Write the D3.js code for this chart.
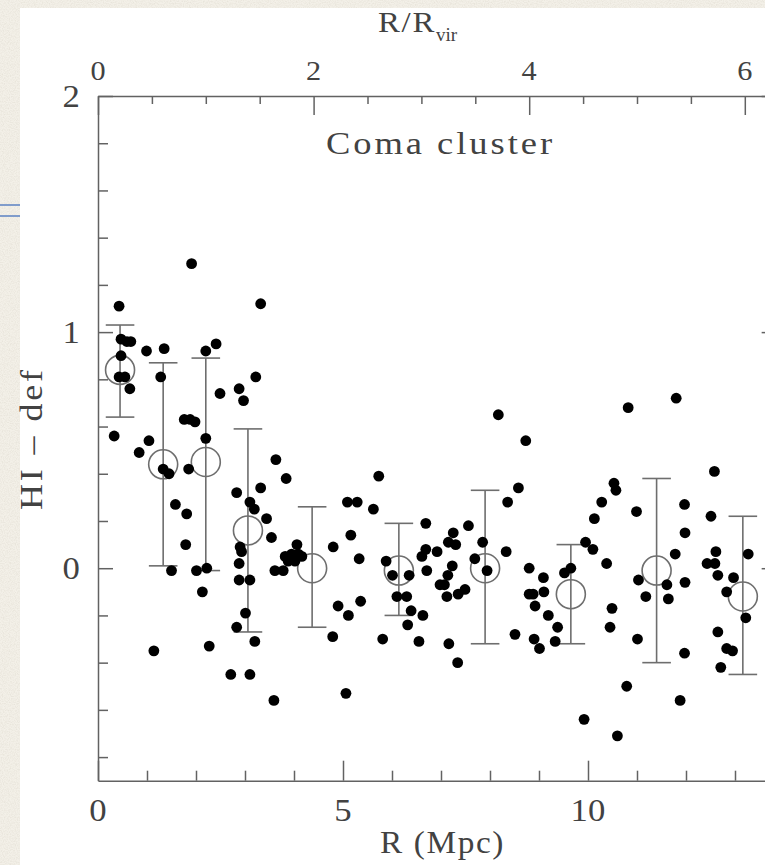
<!DOCTYPE html>
<html>
<head>
<meta charset="utf-8">
<script src="https://cdn.jsdelivr.net/npm/d3@7"></script>
<style>
  html, body { margin: 0; padding: 0; background: #f2eee6; }
  svg { display: block; }
  text { font-family: "Liberation Serif", "DejaVu Serif", serif; fill: #424242; }
</style>
</head>
<body>
<svg id="chart" width="765" height="865"></svg>
<script>
// Individual galaxies: projected distance from the cluster centre (Mpc) and HI deficiency
const galaxyR = [
  1.91, 0.43, 3.32, 0.47, 0.59, 0.67, 0.99, 1.35, 2.20, 2.41,
  0.47, 0.43, 0.55, 0.65, 1.28, 3.22, 2.49, 2.88, 2.97, 1.76,
  1.88, 1.98, 0.33, 1.04, 0.84, 2.20, 1.33, 1.45, 1.85, 1.58,
  1.81, 1.79, 2.83, 3.10, 3.19, 3.32, 3.44, 2.90, 2.93, 2.88,
  1.50, 2.01, 2.22, 2.13, 2.88, 3.10, 3.01, 2.83, 3.20, 1.14,
  2.27, 2.71, 3.10, 3.59,
  3.63, 3.84, 3.54, 4.06, 3.82, 3.95, 4.09, 4.16, 3.88, 4.02, 3.61, 3.78,
  4.80, 5.16, 5.33, 5.09, 5.29, 5.73, 5.62, 4.90, 5.11, 5.36, 4.79, 5.81,
  5.88, 6.01, 6.35, 6.10, 6.30, 6.39, 6.32, 6.63, 6.55, 6.69, 6.69, 6.61, 6.92, 6.71, 6.98, 5.06,
  8.17, 8.73, 8.58, 8.36, 7.56, 7.25, 7.15, 7.30, 7.85, 8.33, 7.69, 7.94, 7.23, 7.14, 7.07, 7.12, 7.35, 7.49, 7.16, 7.34,
  8.80, 9.09, 8.80, 8.88, 9.10, 8.92, 9.19, 9.38, 9.33, 8.51, 8.90, 9.01, 9.52, 9.65, 9.95, 10.10, 10.13, 10.28, 10.38, 10.49, 10.45, 9.92,
  10.82, 11.80, 10.53, 10.57, 10.99, 11.03, 11.18, 11.61, 11.64, 11.01, 10.79, 10.60, 11.97, 11.98, 11.78, 11.98, 11.97, 11.88,
  12.58, 12.51, 12.61, 12.43, 12.59, 12.65, 12.97, 12.83, 13.27, 13.22, 12.65, 12.83, 12.95, 12.71
];
const galaxyDef = [
  1.29, 1.11, 1.12, 0.97, 0.96, 0.96, 0.92, 0.93, 0.92, 0.95,
  0.90, 0.81, 0.81, 0.76, 0.81, 0.81, 0.74, 0.76, 0.71, 0.63,
  0.63, 0.62, 0.56, 0.54, 0.49, 0.55, 0.42, 0.40, 0.42, 0.27,
  0.23, 0.10, 0.32, 0.28, 0.25, 0.34, 0.21, 0.09, 0.07, 0.02,
  -0.01, -0.01, 0.00, -0.10, -0.05, -0.05, -0.19, -0.25, -0.31, -0.35,
  -0.33, -0.45, -0.45, -0.56,
  0.46, 0.38, 0.13, 0.10, 0.05, 0.06, 0.06, 0.05, 0.03, 0.03, -0.01, -0.01,
  0.09, 0.14, 0.04, 0.28, 0.28, 0.39, 0.25, -0.16, -0.20, -0.14, -0.29, -0.30,
  0.03, -0.03, -0.03, -0.12, -0.12, -0.18, -0.24, -0.20, -0.31, 0.19, 0.08, 0.05, 0.07, -0.01, -0.07, -0.53,
  0.65, 0.54, 0.34, 0.28, 0.18, 0.15, 0.11, 0.10, 0.11, 0.07, 0.04, -0.01, 0.01, -0.03, -0.07, -0.12, -0.11, -0.09, -0.32, -0.40,
  0.00, -0.04, -0.11, -0.11, -0.10, -0.16, -0.20, -0.25, -0.31, -0.28, -0.30, -0.34, -0.02, 0.00, 0.11, 0.08, 0.21, 0.28, 0.02, -0.17, -0.25, -0.64,
  0.68, 0.72, 0.36, 0.33, 0.24, -0.05, -0.12, -0.07, -0.13, -0.30, -0.50, -0.71, 0.27, 0.15, 0.06, -0.06, -0.36, -0.56,
  0.41, 0.22, 0.07, 0.02, 0.02, -0.03, -0.04, -0.10, 0.06, -0.21, -0.27, -0.34, -0.35, -0.42
];

// Binned averages with their spread
const binR    = [0.45, 1.33, 2.20, 3.06, 4.37, 6.14, 7.90, 9.65, 11.40, 13.16];
const binMean = [0.84, 0.44, 0.45, 0.16, 0.00, -0.01, 0.00, -0.11, -0.01, -0.12];
const binHigh = [1.03, 0.87, 0.89, 0.59, 0.26, 0.19, 0.33, 0.10, 0.38, 0.22];
const binLow  = [0.64, 0.01, -0.01, -0.27, -0.25, -0.20, -0.32, -0.32, -0.40, -0.45];

// Axis ticks
const bottomMajor = [0, 5, 10];
const bottomLabels = ["0", "5", "10"];
const topMajor = [0, 2, 4, 6];
const topLabels = ["0", "2", "4", "6"];
const leftMajor = [0, 1, 2];
const leftLabels = ["0", "1", "2"];

const rVirMpc = 2.2;
const rMax = 13.85;

const svg = d3.select("#chart");

// paper texture around the figure
const defs = svg.append("defs");
const grain = defs.append("filter").attr("id", "grain").attr("x", 0).attr("y", 0).attr("width", 1).attr("height", 1);
grain.append("feTurbulence").attr("type", "fractalNoise").attr("baseFrequency", 0.85).attr("numOctaves", 2).attr("seed", 7);
grain.append("feColorMatrix").attr("type", "matrix")
  .attr("values", "0 0 0 0 0.62  0 0 0 0 0.58  0 0 0 0 0.50  1.2 0 0 0 -0.45");

svg.append("rect").attr("width", 765).attr("height", 865).attr("fill", "#f3f0e8");
svg.append("rect").attr("width", 765).attr("height", 865).attr("filter", "url(#grain)").attr("opacity", 0.55);

// rule marks at the far left
[205, 216].forEach(yy => {
  svg.append("line").attr("x1", 0).attr("x2", 20).attr("y1", yy).attr("y2", yy)
    .attr("stroke", "#809ccb").attr("stroke-width", 2);
});

// white sheet
svg.append("rect").attr("x", 20).attr("y", 8).attr("width", 745).attr("height", 857).attr("fill", "#ffffff");

const plotLeft = 98, plotRight = plotLeft + rMax * 49, plotTop = 96, plotBottom = 780.7;
const x = d3.scaleLinear().domain([0, rMax]).range([plotLeft, plotRight]);
const xTop = d3.scaleLinear().domain([0, rMax / rVirMpc]).range([plotLeft, plotRight]);
const y = d3.scaleLinear().domain([-0.9, 2]).range([plotBottom, plotTop]);

const axisColor = "#626262";
const clean = g => {
  g.selectAll("text").remove();
  g.attr("color", axisColor);
  g.selectAll("line, path").attr("stroke-width", 1.5);
};
const noDomain = g => g.select(".domain").remove();

const round2 = v => Math.round(v * 100) / 100;
const minorBottom = d3.range(1, 14).filter(v => v % 5 !== 0);
const minorTop = d3.range(0.5, 6.3, 0.5).map(round2).filter(v => v % 2 !== 0);
const minorLeft = d3.range(-0.8, 2.0, 0.2).map(round2).filter(v => Math.abs(v - Math.round(v)) > 1e-6);

// bottom axis
svg.append("g").attr("transform", `translate(0,${plotBottom})`)
  .call(d3.axisBottom(x).tickValues(bottomMajor).tickSize(-20).tickSizeOuter(0)).call(clean);
svg.append("g").attr("transform", `translate(0,${plotBottom})`)
  .call(d3.axisBottom(x).tickValues(minorBottom).tickSize(-10)).call(clean).call(noDomain);
// top axis (R / R_vir)
svg.append("g").attr("transform", `translate(0,${plotTop})`)
  .call(d3.axisTop(xTop).tickValues(topMajor).tickSize(-19).tickSizeOuter(0)).call(clean);
svg.append("g").attr("transform", `translate(0,${plotTop})`)
  .call(d3.axisTop(xTop).tickValues(minorTop).tickSize(-8)).call(clean).call(noDomain);
// left axis
svg.append("g").attr("transform", `translate(${plotLeft},0)`)
  .call(d3.axisLeft(y).tickValues(leftMajor).tickSize(-15).tickSizeOuter(0)).call(clean);
svg.append("g").attr("transform", `translate(${plotLeft},0)`)
  .call(d3.axisLeft(y).tickValues(minorLeft).tickSize(-10)).call(clean).call(noDomain);
// right axis
svg.append("g").attr("transform", `translate(${plotRight},0)`)
  .call(d3.axisRight(y).tickValues(leftMajor).tickSize(-15).tickSizeOuter(0)).call(clean);
svg.append("g").attr("transform", `translate(${plotRight},0)`)
  .call(d3.axisRight(y).tickValues(minorLeft).tickSize(-10)).call(clean).call(noDomain);

// tick labels (digits drawn slightly wide)
const wideDigits = (sel, size) => sel.attr("font-size", size)
  .attr("textLength", (d, i, n) => n[i].textContent.length * size * 0.56)
  .attr("lengthAdjust", "spacingAndGlyphs");
svg.append("g").selectAll("text").data(bottomMajor).join("text")
  .attr("x", d => x(d)).attr("y", 821).attr("text-anchor", "middle")
  .text((d, i) => bottomLabels[i]).call(wideDigits, 31);
svg.append("g").selectAll("text").data(topMajor).join("text")
  .attr("x", d => xTop(d)).attr("y", 80).attr("text-anchor", "middle")
  .text((d, i) => topLabels[i]).call(wideDigits, 27);
svg.append("g").selectAll("text").data(leftMajor).join("text")
  .attr("x", 80).attr("y", d => y(d) + 11).attr("text-anchor", "end")
  .text((d, i) => leftLabels[i]).call(wideDigits, 31);

// axis titles
const title = (sel, len, ls) => sel.attr("letter-spacing", ls)
  .attr("textLength", len).attr("lengthAdjust", "spacingAndGlyphs");
svg.append("text").attr("x", 380).attr("y", 853).attr("font-size", 31)
  .text("R (Mpc)").call(title, 125, 1.5);
const tt = svg.append("text").attr("x", 378).attr("y", 32).attr("font-size", 29);
tt.append("tspan").text("R/R").call(title, 58, 1.5);
tt.append("tspan").attr("font-size", 19).attr("dy", 9).text("vir");
svg.append("text").attr("transform", "translate(42,510) rotate(-90)").attr("font-size", 31)
  .text("HI – def").call(title, 143, 2.5);
svg.append("text").attr("x", 326).attr("y", 154).attr("font-size", 31)
  .text("Coma cluster").call(title, 229, 2.5);

// binned averages: spread bars and open circles
const bins = binR.map((r, i) => ({ r, m: binMean[i], lo: binLow[i], hi: binHigh[i] }));
const gb = svg.append("g").attr("stroke", "#6e6e6e").attr("stroke-width", 1.6).attr("fill", "none");
gb.selectAll("line.v").data(bins).join("line").attr("class", "v")
  .attr("x1", d => x(d.r)).attr("x2", d => x(d.r)).attr("y1", d => y(d.lo)).attr("y2", d => y(d.hi));
gb.selectAll("line.t").data(bins).join("line").attr("class", "t")
  .attr("x1", d => x(d.r) - 14.3).attr("x2", d => x(d.r) + 14.3).attr("y1", d => y(d.hi)).attr("y2", d => y(d.hi));
gb.selectAll("line.b").data(bins).join("line").attr("class", "b")
  .attr("x1", d => x(d.r) - 14.3).attr("x2", d => x(d.r) + 14.3).attr("y1", d => y(d.lo)).attr("y2", d => y(d.lo));

// galaxies
svg.append("g").selectAll("circle").data(galaxyR.map((r, i) => [r, galaxyDef[i]])).join("circle")
  .attr("cx", d => x(d[0])).attr("cy", d => y(d[1])).attr("r", 5.4).attr("fill", "#000");

gb.selectAll("circle").data(bins).join("circle")
  .attr("cx", d => x(d.r)).attr("cy", d => y(d.m)).attr("r", 14.5);
</script>
</body>
</html>
